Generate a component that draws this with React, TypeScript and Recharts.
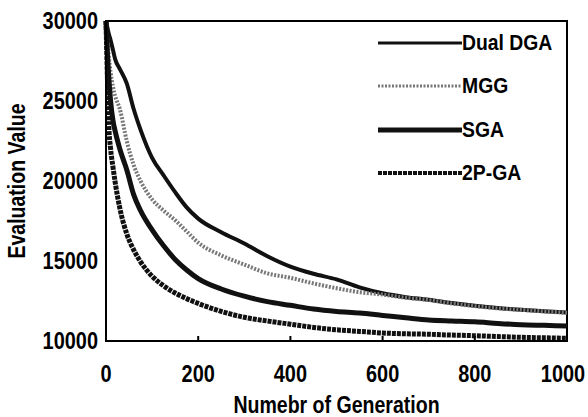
import { FC } from "react";
import {
  LineChart,
  Line,
  XAxis,
  YAxis,
  Legend,
  Label,
  ReferenceArea,
} from "recharts";

const generations = [
  0, 3, 6, 10, 15, 20, 30, 45, 60, 75, 100, 125, 150, 175, 200, 250, 300, 350,
  400, 450, 500, 550, 600, 650, 700, 750, 800, 850, 900, 950, 1000,
];

const dualDga = [
  30000, 29600, 29200, 28800, 28200, 27600, 27000, 26100, 24500, 23200, 21450,
  20350, 19300, 18350, 17650, 16800, 16100, 15300, 14650, 14200, 13850, 13350,
  12980, 12740, 12580, 12370, 12200, 12060, 11960, 11860, 11780,
];

const mgg = [
  30000, 28800, 27800, 26800, 25900, 25300, 24500, 22500, 21000, 20000, 18850,
  18150, 17550, 16850, 16150, 15350, 14780, 14230, 13950, 13600, 13300, 13050,
  12900, 12700, 12560, 12350, 12180, 12040, 11950, 11850, 11770,
];

const sga = [
  30000, 28000, 26500, 25000, 23800, 23100, 22000, 20700, 19150, 18150, 16950,
  15950, 15100, 14440, 13900, 13250, 12800, 12460, 12230, 12000, 11850, 11750,
  11600, 11450, 11310, 11250, 11200, 11100, 11020, 10980, 10940,
];

const twoPGa = [
  30000, 26500, 23500, 22000, 20900, 19900, 18300, 16700, 15700, 14950, 14050,
  13450, 13000, 12650, 12350, 11850, 11480, 11250, 11050, 10850, 10700, 10600,
  10500, 10450, 10420, 10370, 10330, 10280, 10230, 10200, 10170,
];

const xTicks = [0, 200, 400, 600, 800, 1000];
const yTicks = [10000, 15000, 20000, 25000, 30000];

const data = generations.map((g, i) => ({
  gen: g,
  dual: dualDga[i],
  mgg: mgg[i],
  sga: sga[i],
  p2: twoPGa[i],
}));

const series = [
  { key: "dual", name: "Dual DGA", color: "#111", width: 4, dash: undefined, legendWidth: 3 },
  { key: "mgg", name: "MGG", color: "#777", width: 4, dash: "2 1.5", legendWidth: 3 },
  { key: "sga", name: "SGA", color: "#111", width: 5, dash: undefined, legendWidth: 5 },
  { key: "p2", name: "2P-GA", color: "#111", width: 5, dash: "4 1", legendWidth: 4 },
];

const FONT = "'Liberation Sans', Arial, sans-serif";

// narrow, bold text like the scanned figure
const NarrowText = ({ x, y, anchor, size, sx, rotate, children }: any) => (
  <text
    transform={`translate(${x},${y})${rotate ? ` rotate(${rotate})` : ""} scale(${sx},1)`}
    textAnchor={anchor}
    fontSize={size}
    fontWeight="bold"
    fontFamily={FONT}
    fill="#000"
  >
    {children}
  </text>
);

const XTick = (props: any) => {
  const { x, y, payload } = props;
  const dx = payload.value === 1000 ? -4 : 0;
  return (
    <g>
      <line x1={x} y1={y} x2={x} y2={y - 5} stroke="#000" strokeWidth={2} />
      <NarrowText x={x + dx} y={y + 41} anchor="middle" size={24} sx={0.83}>
        {payload.value}
      </NarrowText>
    </g>
  );
};

const YTick = (props: any) => {
  const { x, y, payload } = props;
  return (
    <NarrowText x={x} y={y + 8} anchor="end" size={24} sx={0.83}>
      {payload.value}
    </NarrowText>
  );
};

const XTitle = ({ viewBox }: any) => (
  <NarrowText x={viewBox.x + viewBox.width / 2} y={viewBox.y + viewBox.height - 4} anchor="middle" size={23} sx={0.85}>
    Numebr of Generation
  </NarrowText>
);

const YTitle = ({ viewBox }: any) => (
  <NarrowText x={25} y={viewBox.y + viewBox.height / 2} anchor="middle" size={23} sx={0.85} rotate={-90}>
    Evaluation Value
  </NarrowText>
);

const LegendBox = () => (
  <div style={{ fontFamily: FONT, fontWeight: "bold", fontSize: 22, color: "#000" }}>
    {series.map((s) => (
      <div
        key={s.key}
        style={{ display: "flex", alignItems: "center", height: 43.5 }}
      >
        <svg width={84} height={10}>
          <line
            x1={0}
            y1={5}
            x2={84}
            y2={5}
            stroke={s.color}
            strokeWidth={s.legendWidth}
            strokeDasharray={s.dash}
          />
        </svg>
        <span
          style={{
            lineHeight: 1,
            display: "inline-block",
            transform: "scaleX(0.88)",
            transformOrigin: "left center",
            whiteSpace: "nowrap",
          }}
        >
          {s.name}
        </span>
      </div>
    ))}
  </div>
);

const App: FC = () => {
  return (
    <div style={{ position: "absolute", left: 0, top: 0, width: 588, height: 417, background: "#fff" }}>
      <LineChart
        width={588}
        height={417}
        data={data}
        margin={{ top: 21, right: 21, left: 0, bottom: 0 }}
      >
        <XAxis
          dataKey="gen"
          type="number"
          domain={[0, 1000]}
          ticks={xTicks}
          height={76}
          tickLine={false}
          tickSize={0}
          tickMargin={0}
          tick={<XTick />}
          axisLine={{ stroke: "#000", strokeWidth: 2 }}
        >
          <Label content={<XTitle />} />
        </XAxis>
        <YAxis
          type="number"
          domain={[10000, 30000]}
          ticks={yTicks}
          width={106}
          tickLine={false}
          tickSize={0}
          tickMargin={8}
          tick={<YTick />}
          axisLine={{ stroke: "#000", strokeWidth: 2 }}
          allowDataOverflow
        >
          <Label content={<YTitle />} />
        </YAxis>
        <ReferenceArea
          x1={0}
          x2={1000}
          y1={10000}
          y2={30000}
          fill="none"
          stroke="#000"
          strokeWidth={2}
          fillOpacity={0}
        />
        {series.map((s) => (
          <Line
            key={s.key}
            type="monotone"
            dataKey={s.key}
            name={s.name}
            stroke={s.color}
            strokeWidth={s.width}
            strokeDasharray={s.dash}
            dot={false}
            isAnimationActive={false}
          />
        ))}
        <Legend
          layout="horizontal"
          verticalAlign="middle"
          align="center"
          wrapperStyle={{ top: 21, left: 378, width: 200, height: 180 }}
          content={<LegendBox />}
        />
      </LineChart>
    </div>
  );
};

export default App;
